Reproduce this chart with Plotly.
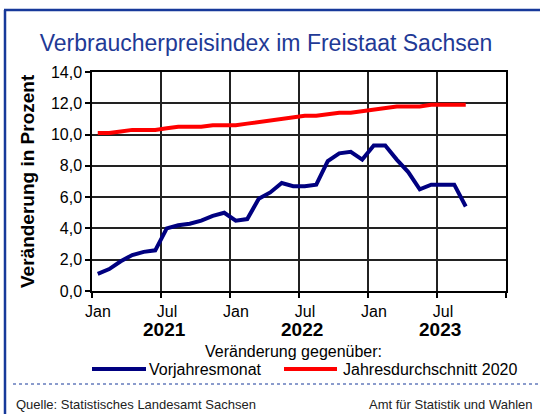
import plotly.graph_objects as go

# ---------------- data ----------------
months = [f"{y}-{m:02d}" for y in (2021, 2022, 2023) for m in range(1, 13)][:33]
vorjahresmonat = [1.1, 1.4, 1.9, 2.3, 2.5, 2.6, 4.0, 4.2, 4.3, 4.5, 4.8, 5.0,
                  4.5, 4.6, 5.9, 6.3, 6.9, 6.7, 6.7, 6.8, 8.3, 8.8, 8.9, 8.4,
                  9.3, 9.3, 8.4, 7.6, 6.5, 6.8, 6.8, 6.8, 5.4]
jahresdurchschnitt_2020 = [10.1, 10.1, 10.2, 10.3, 10.3, 10.3, 10.4, 10.5, 10.5, 10.5, 10.6, 10.6,
                           10.6, 10.7, 10.8, 10.9, 11.0, 11.1, 11.2, 11.2, 11.3, 11.4, 11.4, 11.5,
                           11.6, 11.7, 11.8, 11.8, 11.8, 11.9, 11.9, 11.9, 11.9]
tick_labels = ["Jan", "Jul", "Jan", "Jul", "Jan", "Jul", ""]
year_months = ["2021-07", "2022-07", "2023-07"]
year_labels = ["2021", "2022", "2023"]
series_names = ["Vorjahresmonat", "Jahresdurchschnitt 2020"]
series_colors = ["#000080", "#FF0000"]

FONT = "Liberation Sans, Arial, sans-serif"
W, H = 540, 414
L, R, T, B = 92, 34, 72, 123
PW, PH = W - L - R, H - T - B
N_SLOTS = 36  # Jan 2021 .. Dec 2023 category slots
Y_RANGE = [0, 14]


def px_x(x):
    return (x - L) / PW


def px_y(y):
    return (H - B - y) / PH


# month position on the category scale (index of each month)
x_pos = list(range(len(months)))
# half-year boundaries between categories (ticks + vertical grid), labels shifted to slot centre
bound_pos = [p - 0.5 for p in range(0, N_SLOTS + 1, 6)]

# vertical half-year grid, drawn on the axes' own scale (beneath the data lines)
grid_x, grid_y = [], []
for bp in bound_pos[1:-1]:
    grid_x += [bp, bp, None]
    grid_y += [Y_RANGE[0], Y_RANGE[1], None]

fig = go.Figure()
fig.add_trace(go.Scatter(x=grid_x, y=grid_y, mode="lines", showlegend=False, hoverinfo="skip",
                         line=dict(color="#222", width=1.5)))
fig.add_trace(go.Scatter(x=x_pos, y=vorjahresmonat, mode="lines", name=series_names[0],
                         customdata=months, hovertemplate="%{customdata}: %{y}<extra></extra>",
                         line=dict(color=series_colors[0], width=4)))
fig.add_trace(go.Scatter(x=x_pos, y=jahresdurchschnitt_2020, mode="lines", name=series_names[1],
                         customdata=months, hovertemplate="%{customdata}: %{y}<extra></extra>",
                         line=dict(color=series_colors[1], width=4)))

annotations = []
for ym, yl in zip(year_months, year_labels):
    annotations.append(dict(x=months.index(ym) - 0.2, y=px_y(329), xref="x", yref="paper",
                            text=f"<b>{yl}</b>", showarrow=False,
                            font=dict(family=FONT, size=19, color="#000"),
                            xanchor="center", yanchor="middle"))
annotations += [
    dict(x=px_x(27), y=px_y(181), xref="paper", yref="paper", text="<b>Veränderung in Prozent</b>",
         textangle=-90, showarrow=False, font=dict(family=FONT, size=19, color="#000"),
         xanchor="center", yanchor="middle"),
    dict(x=px_x(293), y=px_y(351), xref="paper", yref="paper", text="Veränderung gegenüber:",
         showarrow=False, font=dict(family=FONT, size=16, color="#000"),
         xanchor="center", yanchor="middle"),
    dict(x=px_x(14), y=px_y(405), xref="paper", yref="paper",
         text="Quelle: Statistisches Landesamt Sachsen", showarrow=False,
         font=dict(family=FONT, size=13, color="#222"), xanchor="left", yanchor="middle"),
    dict(x=px_x(535), y=px_y(405), xref="paper", yref="paper",
         text="Amt für Statistik und Wahlen", showarrow=False,
         font=dict(family=FONT, size=13, color="#222"), xanchor="right", yanchor="middle"),
]

border = "#17399A"
shapes = [
    dict(type="line", xref="paper", yref="paper", x0=px_x(4), x1=px_x(541), y0=px_y(10), y1=px_y(10),
         line=dict(color=border, width=2.5)),
    dict(type="line", xref="paper", yref="paper", x0=px_x(5), x1=px_x(5), y0=px_y(10), y1=px_y(415),
         line=dict(color=border, width=2.5)),
    dict(type="line", xref="paper", yref="paper", x0=px_x(13), x1=px_x(541), y0=px_y(384), y1=px_y(384),
         line=dict(color=border, width=1, dash="dot")),
]

# legend (sample line + label) laid out like the original
legend_items = [(92, 146, 147), (284, 337, 341)]
for (lx0, lx1, tx), name, col in zip(legend_items, series_names, series_colors):
    shapes.append(dict(type="line", xref="paper", yref="paper", x0=px_x(lx0), x1=px_x(lx1),
                       y0=px_y(369), y1=px_y(369), line=dict(color=col, width=4)))
    annotations.append(dict(x=px_x(tx), y=px_y(369), xref="paper", yref="paper", text=name,
                            showarrow=False, font=dict(family=FONT, size=16, color="#000"),
                            xanchor="left", yanchor="middle"))

fig.update_layout(
    width=W, height=H, margin=dict(l=L, r=R, t=T, b=B, autoexpand=False),
    paper_bgcolor="white", plot_bgcolor="white",
    separators=",.",
    showlegend=False,
    font=dict(family=FONT, size=16, color="#000"),
    title=dict(text="Verbraucherpreisindex im Freistaat Sachsen", x=266 / W, xanchor="center",
               y=1 - 43 / H, yanchor="middle", font=dict(family=FONT, size=23, color="#1F3A96")),
    xaxis=dict(range=[-0.5, N_SLOTS - 0.5], tickmode="array", tickvals=bound_pos, ticktext=tick_labels,
               ticks="outside", ticklen=5, tickcolor="#000", tickwidth=1.5,
               showgrid=True, gridcolor="#222", gridwidth=1.5,
               showline=True, linecolor="#000", linewidth=1.5, mirror=True,
               ticklabelshift=int(round(PW / N_SLOTS / 2)), ticklabelstandoff=0,
               tickfont=dict(size=16), zeroline=False),
    yaxis=dict(range=Y_RANGE, dtick=2, tick0=0, tickformat=".1f", showgrid=True,
               gridcolor="#222", gridwidth=1.5, showline=True, linecolor="#000", linewidth=1.5,
               mirror=True, ticks="outside", ticklen=5, tickcolor="#000", tickwidth=1.5,
               zeroline=False, tickfont=dict(size=16)),
    annotations=annotations, shapes=shapes,
)

fig.write_html("out.html", config={"displayModeBar": False},
               post_script="document.body.style.margin='0';document.body.style.overflow='hidden';")
